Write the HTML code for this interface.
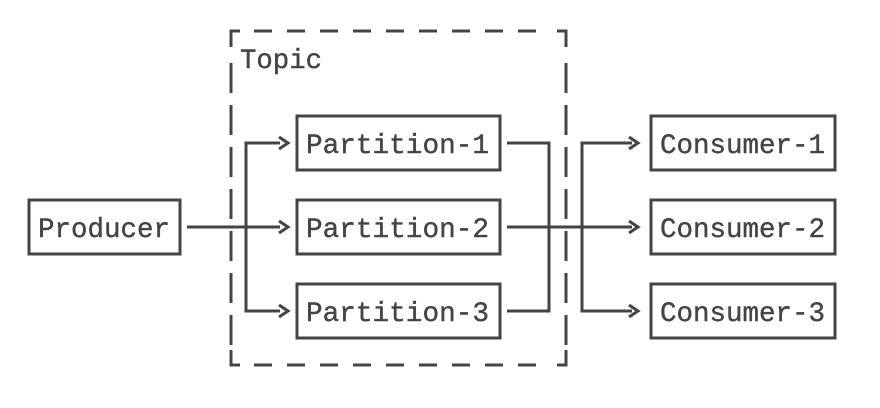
<!DOCTYPE html>
<html><head><style>html,body{margin:0;padding:0;background:#fff}</style></head><body>
<svg width="880" height="408" xmlns="http://www.w3.org/2000/svg" style="display:block">
<g stroke="#444" stroke-width="3" fill="none">
<path d="M231 47 V31 H240"/>
<path d="M566 47 V31 H557"/>
<path d="M231 350 V365 H240"/>
<path d="M566 350 V365 H557"/>
<line x1="254" y1="31" x2="548" y2="31" stroke-dasharray="18 15"/>
<line x1="254" y1="365" x2="548" y2="365" stroke-dasharray="18 15"/>
<line x1="231" y1="63" x2="231" y2="345" stroke-dasharray="30 12"/>
<line x1="566" y1="63" x2="566" y2="345" stroke-dasharray="30 12"/>
<rect x="29" y="200" width="151" height="54"/>
<rect x="297" y="116" width="203" height="54"/>
<rect x="297" y="200" width="203" height="54"/>
<rect x="297" y="284" width="203" height="54"/>
<rect x="651" y="116" width="184" height="54"/>
<rect x="651" y="200" width="184" height="54"/>
<rect x="651" y="284" width="184" height="54"/>
<path d="M187 227 H280"/>
<path d="M280 143 H246 V311 H280"/>
<path d="M279 137 L288 143 L279 149"/>
<path d="M279 221 L288 227 L279 233"/>
<path d="M279 305 L288 311 L279 317"/>
<path d="M507 143 H549 V311 H507"/>
<path d="M507 227 H632"/>
<path d="M632 143 H582 V311 H632"/>
<path d="M629 137 L638 143 L629 149"/>
<path d="M629 221 L638 227 L629 233"/>
<path d="M629 305 L638 311 L629 317"/>
</g>
<g font-family="Liberation Mono, DejaVu Sans Mono, monospace" font-size="28" fill="#444" stroke="#444" stroke-width="0.4">
<text x="240" y="68" textLength="82" lengthAdjust="spacingAndGlyphs">Topic</text>
<text x="38" y="237" textLength="132" lengthAdjust="spacingAndGlyphs">Producer</text>
<text x="306" y="153" textLength="183" lengthAdjust="spacingAndGlyphs">Partition-1</text>
<text x="306" y="237" textLength="183" lengthAdjust="spacingAndGlyphs">Partition-2</text>
<text x="306" y="321" textLength="183" lengthAdjust="spacingAndGlyphs">Partition-3</text>
<text x="660" y="153" textLength="165" lengthAdjust="spacingAndGlyphs">Consumer-1</text>
<text x="660" y="237" textLength="165" lengthAdjust="spacingAndGlyphs">Consumer-2</text>
<text x="660" y="321" textLength="165" lengthAdjust="spacingAndGlyphs">Consumer-3</text>
</g>
</svg>
</body></html>
